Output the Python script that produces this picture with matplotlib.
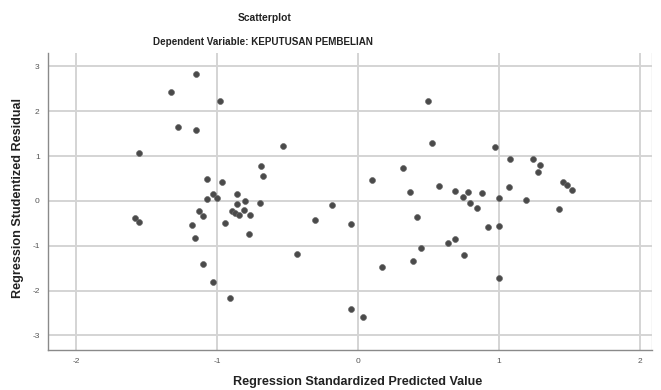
import matplotlib
matplotlib.use("Agg")
import matplotlib.pyplot as plt

# Regression standardized predicted value (x) and studentized residual (y)
pred = [
    -1.151, -1.328, -0.979, -1.274, -1.151, -1.553, -1.071, -0.967,
    -0.688, -0.676, -1.026, -0.998, -1.069, -0.856, -0.799, -0.858,
    -0.695, -0.891, -0.872, -0.846, -0.809, -0.768, -1.130, -1.097,
    -1.180, -0.943, -1.156, -0.771, -1.101, -1.026, -0.908,
    -0.530, 0.097, -0.182, -0.303, -0.052, -0.430, 0.172, -0.047, 0.038,
    0.499, 0.525, 0.974, 0.317, 0.577, 0.369, 0.690, 0.778, 0.742,
    0.879, 0.792, 0.842, 0.998, 0.418, 0.922, 0.998, 0.690, 0.638,
    0.445, 0.750, 0.390, 0.998,
    1.078, 1.243, 1.293, 1.274, 1.073, 1.456, 1.480, 1.520, 1.189, 1.428,
    -1.582, -1.551,
]
resid = [
    2.835, 2.430, 2.220, 1.660, 1.580, 1.060, 0.480, 0.420,
    0.770, 0.550, 0.150, 0.070, 0.040, 0.150, 0.000, -0.070,
    -0.050, -0.220, -0.260, -0.310, -0.210, -0.310, -0.230, -0.330,
    -0.540, -0.490, -0.820, -0.740, -1.410, -1.810, -2.160,
    1.230, 0.460, -0.100, -0.430, -0.510, -1.180, -1.480, -2.420, -2.580,
    2.240, 1.290, 1.210, 0.740, 0.330, 0.210, 0.220, 0.210, 0.080,
    0.170, -0.040, -0.150, 0.060, -0.350, -0.590, -0.570, -0.840, -0.940,
    -1.060, -1.200, -1.350, -1.730,
    0.940, 0.940, 0.810, 0.650, 0.320, 0.420, 0.360, 0.240, 0.030, -0.170,
    -0.370, -0.460,
]
x_ticks = [-2, -1, 0, 1, 2]
y_ticks = [-3, -2, -1, 0, 1, 2, 3]

plt.rcParams['font.family'] = ['Liberation Sans', 'DejaVu Sans']

fig = plt.figure(figsize=(6.61, 3.90), dpi=100)
ax = fig.add_axes([48/661, 1-350/390, (652-48)/661, (350-53)/390])

ax.set_xlim(-2.199, 2.085)
ax.set_ylim(-3.326, 3.30)
ax.set_xticks(x_ticks)
ax.set_yticks(y_ticks)
ax.set_xticklabels([str(v) for v in x_ticks])
ax.set_yticklabels([str(v) for v in y_ticks])
ax.tick_params(length=0, labelsize=6, colors='#555555', pad=6)

ax.grid(True, color='#d4d4d4', linewidth=1.4)
ax.set_axisbelow(True)
for side in ['top', 'right']:
    ax.spines[side].set_visible(False)
for side in ['left', 'bottom']:
    ax.spines[side].set_color('#8a8a8a')
    ax.spines[side].set_linewidth(1.0)
ax.axvline(2.085, color='#d8d8d8', linewidth=1.0)

ax.scatter(pred, resid, s=18, color='#4a4a4a', edgecolors='#6a6a6a',
           linewidths=0.5, zorder=3)

fig.text(265/661, 1-18/390, 'Scatterplot', ha='center', va='center',
         fontsize=7.4, fontweight='bold', color='#222222')
fig.text(263/661, 1-42/390, 'Dependent Variable: KEPUTUSAN PEMBELIAN',
         ha='center', va='center', fontsize=7.1, fontweight='bold',
         color='#222222')
fig.text(358/661, 1-382/390, 'Regression Standardized Predicted Value',
         ha='center', va='center', fontsize=9.1, fontweight='bold',
         color='#222222')
fig.text(18/661, 1-198/390, 'Regression Studentized Residual',
         ha='center', va='center', rotation=90, fontsize=9.1,
         fontweight='bold', color='#222222')

fig.savefig('out.png', dpi=100)
